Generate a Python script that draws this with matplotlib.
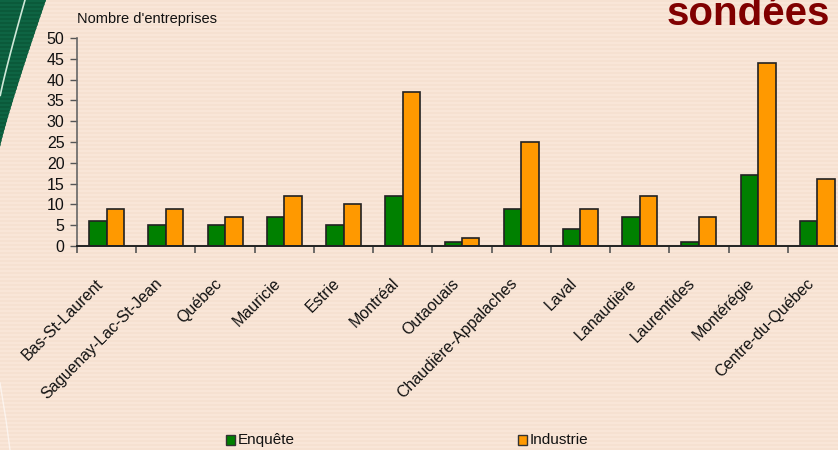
import numpy as np
import matplotlib
matplotlib.use("Agg")
import matplotlib.pyplot as plt
from matplotlib.patches import Polygon, Rectangle

plt.rcParams['font.family'] = ['Liberation Sans', 'DejaVu Sans']

regions = ["Bas-St-Laurent", "Saguenay-Lac-St-Jean", "Québec", "Mauricie", "Estrie",
           "Montréal", "Outaouais", "Chaudière-Appalaches", "Laval", "Lanaudière",
           "Laurentides", "Montérégie", "Centre-du-Québec"]
enquete = [6, 5, 5, 7, 5, 12, 1, 9, 4, 7, 1, 17, 6]
industrie = [9, 9, 7, 12, 10, 37, 2, 25, 9, 12, 7, 44, 16]
yticks = [0, 5, 10, 15, 20, 25, 30, 35, 40, 45, 50]

W, H = 838, 450
fig = plt.figure(figsize=(W / 100, H / 100), dpi=100)

# striped peach background
bg = fig.add_axes([0, 0, 1, 1], zorder=-10)
bg.set_xlim(0, W)
bg.set_ylim(H, 0)
bg.axis("off")
bg.add_patch(Rectangle((0, 0), W, H, color="#F9E6D8", lw=0))
for y in np.arange(0, H, 4):
    bg.add_patch(Rectangle((0, y), W, 2, color="#F6E1D1", lw=0))

# green decorative swoosh in the top-left corner
t = np.linspace(0, 1, 60)
outer_x = 46 * (1 - t) ** 1.1
outer_y = 147 * t
inner = np.column_stack([np.zeros_like(t), outer_y])
poly = np.vstack([np.column_stack([outer_x, outer_y]), inner[::-1]])
swoosh = Polygon(poly, closed=True, color="#0B5A3A", lw=0)
bg.add_patch(swoosh)
for y in np.arange(0, 150, 4):
    stripe = Rectangle((0, y), 46, 1.5, color="#0E6443", lw=0)
    bg.add_patch(stripe)
    stripe.set_clip_path(swoosh)
bg.plot(25 * (1 - t[:-1]) ** 1.1, 97 * t[:-1], color="#CFE8D8", lw=1.2)
bg.plot([0, 6, 10], [383, 420, 450], color="#FFFFFF", lw=1.0, alpha=0.6)

# main axes (extends slightly past the right edge)
x0, x1 = 77, 847
y_top, y_bot = 38, 246
ax = fig.add_axes([x0 / W, 1 - y_bot / H, (x1 - x0) / W, (y_bot - y_top) / H])
ax.patch.set_alpha(0)

n = len(regions)
x = np.arange(n)
bw = 0.295
ax.bar(x - bw / 2, enquete, bw, color="#008000", edgecolor="#222222", lw=1.2, label="Enquête")
ax.bar(x + bw / 2, industrie, bw, color="#FF9900", edgecolor="#222222", lw=1.2, label="Industrie")

ax.set_xlim(-0.5, n - 0.5)
ax.set_ylim(0, 50)
ax.set_yticks(yticks)
ax.set_yticklabels([str(v) for v in yticks], fontsize=11.5, color="#111111")
ax.set_xticks(np.arange(n + 1) - 0.5)
ax.set_xticklabels([])
ax.tick_params(axis="y", direction="out", length=5, width=1, color="#555555", pad=4)
ax.tick_params(axis="x", direction="out", length=5, width=1.2, color="#555555")
for s in ["top", "right"]:
    ax.spines[s].set_visible(False)
ax.spines["left"].set_color("#666666")
ax.spines["left"].set_linewidth(1.2)
ax.spines["bottom"].set_color("#222222")
ax.spines["bottom"].set_linewidth(1.4)

for i, name in enumerate(regions):
    ax.annotate(name, xy=(i, 0), xycoords="data", xytext=(-8, -21.5), textcoords="offset points",
                rotation=45, ha="right", va="top", rotation_mode="anchor",
                fontsize=11.5, color="#111111", annotation_clip=False)

fig.text(x0 / W, 1 - 19 / H, "Nombre d'entreprises", fontsize=10.5, color="#111111",
         ha="left", va="center")

fig.text(830 / W, 1 - 25 / H, "sondées", fontsize=29, fontweight="bold", color="#800000",
         ha="right", va="baseline")

# legend
for lx, label, col in [(226, "Enquête", "#008000"), (518, "Industrie", "#FF9900")]:
    bg.add_patch(Rectangle((lx, 435), 9, 10, facecolor=col, edgecolor="#333333", lw=1))
    bg.text(lx + 12, 440, label, fontsize=11, color="#111111", ha="left", va="center")

fig.savefig("out.png", dpi=100)
